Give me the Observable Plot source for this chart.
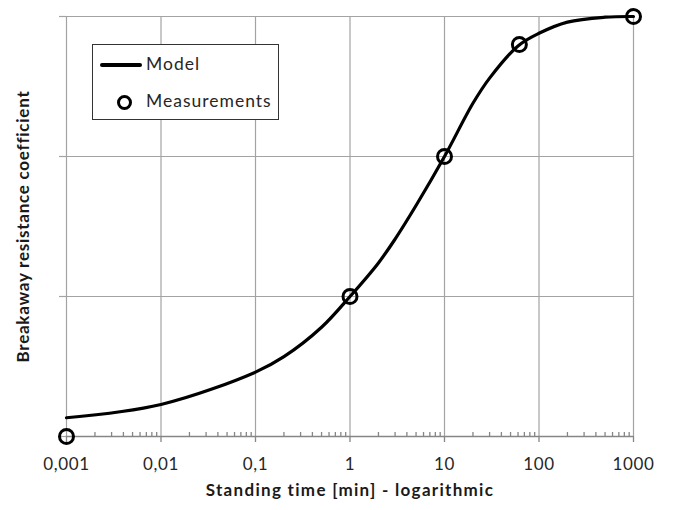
<!DOCTYPE html>
<html>
<head>
<meta charset="utf-8">
<script src="https://cdn.jsdelivr.net/npm/d3@7"></script>
<script src="https://cdn.jsdelivr.net/npm/@observablehq/plot@0.6"></script>
<style>
  body { margin: 0; background: #fff; }
  #wrap { position: relative; width: 674px; height: 510px; font-family: Lato, "Open Sans", sans-serif; }
  #legend { position: absolute; left: 92px; top: 44px; width: 187px; height: 76px; box-sizing: border-box;
            border: 1.3px solid #333; background: #fff; font-size: 17.5px; letter-spacing: 1px; color: #262626; }
  #legend .ln { position: absolute; left: 7px; width: 42px; height: 4px; background: #000; border-radius: 2px; }
  #legend .mk { position: absolute; left: 24px; width: 9px; height: 9px; border: 3px solid #000; border-radius: 50%; }
  #legend .tx { position: absolute; left: 53px; white-space: nowrap; }
  svg g[aria-label="x-axis tick label"] text { letter-spacing: 0.6px; }
</style>
</head>
<body>
<div id="wrap">
  <div id="chart"></div>
  <div id="legend">
    <div class="ln" style="top:18px"></div>
    <div class="tx" style="top:8px">Model</div>
    <div class="mk" style="top:50px"></div>
    <div class="tx" style="top:45px">Measurements</div>
  </div>
</div>
<script>
// Model curve
const modelTime  = [0.001, 0.01, 0.1, 0.2, 0.5, 1, 2, 3, 5, 10, 20, 30, 60, 100, 200, 500, 1000];
const modelValue = [0.134, 0.229, 0.46, 0.57, 0.78, 1.0, 1.24, 1.41, 1.65, 2.0, 2.38, 2.56, 2.79, 2.88, 2.96, 2.995, 3.0];
// Measurements
const measTime  = [0.001, 1, 10, 62, 1000];
const measValue = [0, 1, 2, 2.8, 3];
// Axis ticks
const majorTicks = [0.001, 0.01, 0.1, 1, 10, 100, 1000];
const majorLabels = ["0,001", "0,01", "0,1", "1", "10", "100", "1000"];
const minorTicks = [];
for (let e = -3; e < 3; e++) for (let m = 2; m <= 9; m++) minorTicks.push(+(m * Math.pow(10, e)).toPrecision(3));
const yTicks = [0, 1, 2, 3];
const xTitle = "Standing time [min] - logarithmic";
const yTitle = "Breakaway resistance coefficient";

const model = modelTime.map((t, i) => ({t, v: modelValue[i]}));
const meas = measTime.map((t, i) => ({t, v: measValue[i]}));
const gridColor = "#a3a3a3";

const chart = Plot.plot({
  width: 674,
  height: 510,
  marginLeft: 66,
  marginRight: 41,
  marginTop: 16,
  marginBottom: 74,
  style: {fontFamily: "Lato, 'Open Sans', sans-serif", background: "#fff", color: "#262626"},
  x: {type: "log", domain: [0.001, 1000]},
  y: {domain: [0, 3]},
  marks: [
    Plot.gridX(majorTicks, {stroke: gridColor, strokeOpacity: 1, strokeWidth: 1.2}),
    Plot.gridY(yTicks, {stroke: gridColor, strokeOpacity: 1, strokeWidth: 1.2}),
    Plot.axisY(yTicks, {tickSize: 7, tickFormat: () => "", stroke: gridColor, strokeWidth: 1.2, label: null}),
    Plot.ruleY([0], {stroke: "#868686", strokeWidth: 1.3}),
    Plot.axisX(majorTicks, {tickSize: 6, tickPadding: 15, stroke: "#868686", strokeWidth: 1.3,
      tickFormat: d => majorLabels[majorTicks.indexOf(d)], fontSize: 17, fill: "#262626", label: null}),
    Plot.axisX(minorTicks, {tickSize: -4, tickFormat: () => "", stroke: "#868686", strokeWidth: 1.3, label: null}),
    Plot.line(model, {x: "t", y: "v", stroke: "#000", strokeWidth: 3.2, curve: "catmull-rom"}),
    Plot.dot(meas, {x: "t", y: "v", r: 7, stroke: "#000", strokeWidth: 3, fill: "none"}),
    Plot.text([xTitle], {frameAnchor: "bottom", dy: 59, fontSize: 17, fontWeight: "bold", fill: "#1a1a1a"}),
    Plot.text([yTitle], {frameAnchor: "left", textAnchor: "middle", rotate: -90, dx: -43, dy: 0, fontSize: 17, fontWeight: "bold", fill: "#1a1a1a"})
  ]
});
d3.select(chart).selectAll('g[aria-label="text"] text').each(function() {
  const t = this.textContent;
  if (t === xTitle) this.style.letterSpacing = "1.3px";
  if (t === yTitle) this.style.letterSpacing = "0.75px";
});
document.getElementById("chart").appendChild(chart);
</script>
</body>
</html>
